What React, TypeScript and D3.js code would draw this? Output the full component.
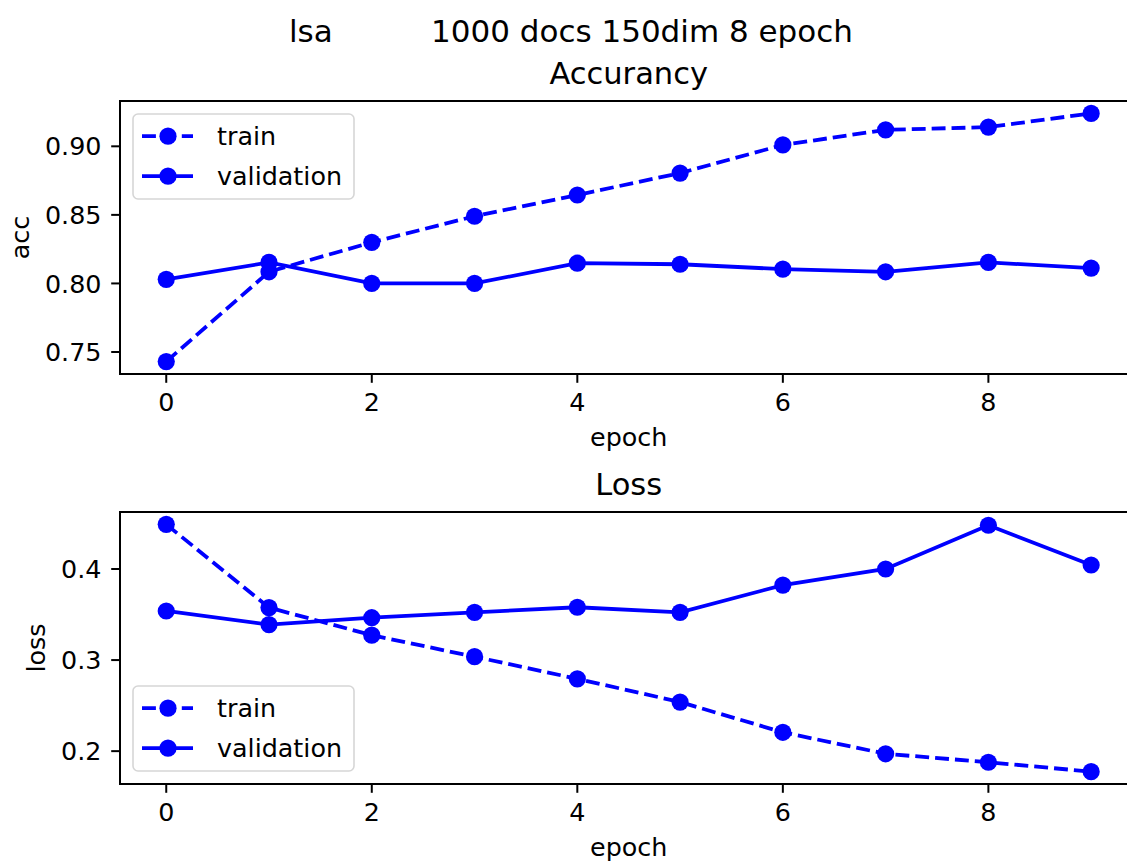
import React, { useEffect, useRef } from "react";
import * as d3 from "d3";

// values
const epochs = [0, 1, 2, 3, 4, 5, 6, 7, 8, 9];
const accTrain = [0.743, 0.8085, 0.830, 0.849, 0.8645, 0.8805, 0.901, 0.912, 0.914, 0.924];
const accVal = [0.803, 0.8153, 0.800, 0.800, 0.8148, 0.814, 0.8104, 0.8085, 0.8153, 0.8112];
const lossTrain = [0.449, 0.3576, 0.3273, 0.3037, 0.2794, 0.2539, 0.2207, 0.1971, 0.1878, 0.1775];
const lossVal = [0.3539, 0.339, 0.3465, 0.3524, 0.358, 0.3524, 0.3823, 0.400, 0.448, 0.4044];
const xTicks = [0, 2, 4, 6, 8];
const accTicks = [0.75, 0.8, 0.85, 0.9];
const lossTicks = [0.2, 0.3, 0.4];
const seriesNames = ["train", "validation"];

const W = 1127;
const H = 861;
const FONT = "DejaVu Sans";
const TICK_FS = 25.4;
const TITLE_FS = 30.5;
const SUP_FS = 31;
const BLUE = "#0000ff";

function withMargin(vals: number[]): [number, number] {
  const lo = d3.min(vals) as number;
  const hi = d3.max(vals) as number;
  const m = (hi - lo) * 0.05;
  return [lo - m, hi + m];
}

export default function App() {
  const ref = useRef<SVGSVGElement>(null);

  useEffect(() => {
    const svg = d3.select(ref.current);
    svg.selectAll("*").remove();

    svg
      .append("text")
      .attr("x", 289)
      .attr("y", 42)
      .style("font-family", FONT)
      .style("font-size", SUP_FS + "px")
      .text("lsa");
    svg
      .append("text")
      .attr("x", 431)
      .attr("y", 42)
      .style("font-family", FONT)
      .style("font-size", SUP_FS + "px")
      .text("1000 docs 150dim 8 epoch");

    const left = 120;
    const right = 1137.4;
    const x = d3.scaleLinear().domain([-0.45, 9.45]).range([left, right]);

    const panels = [
      {
        top: 101,
        bottom: 374,
        title: "Accurancy",
        ylabel: "acc",
        ylabelX: 28.5,
        train: accTrain,
        val: accVal,
        ticks: accTicks,
        fmt: d3.format(".2f"),
        legendAt: "upper",
      },
      {
        top: 512,
        bottom: 784,
        title: "Loss",
        ylabel: "loss",
        ylabelX: 45,
        train: lossTrain,
        val: lossVal,
        ticks: lossTicks,
        fmt: d3.format(".1f"),
        legendAt: "lower",
      },
    ];

    panels.forEach((p) => {
      const y = d3
        .scaleLinear()
        .domain(withMargin(p.train.concat(p.val)))
        .range([p.bottom, p.top]);
      const g = svg.append("g");

      // x ticks
      xTicks.forEach((t) => {
        g.append("line")
          .attr("x1", x(t))
          .attr("x2", x(t))
          .attr("y1", p.bottom)
          .attr("y2", p.bottom + 8.8)
          .attr("stroke", "black")
          .attr("stroke-width", 2);
        g.append("text")
          .attr("x", x(t))
          .attr("y", p.bottom + 37)
          .attr("text-anchor", "middle")
          .style("font-family", FONT)
          .style("font-size", TICK_FS + "px")
          .text(String(t));
      });
      // y ticks
      p.ticks.forEach((t) => {
        g.append("line")
          .attr("x1", left - 8.8)
          .attr("x2", left)
          .attr("y1", y(t))
          .attr("y2", y(t))
          .attr("stroke", "black")
          .attr("stroke-width", 2);
        g.append("text")
          .attr("x", left - 18.5)
          .attr("y", y(t))
          .attr("dy", "0.36em")
          .attr("text-anchor", "end")
          .style("font-family", FONT)
          .style("font-size", TICK_FS + "px")
          .text(p.fmt(t));
      });

      const cx = (left + right) / 2;
      g.append("text")
        .attr("x", cx)
        .attr("y", p.bottom + 72)
        .attr("text-anchor", "middle")
        .style("font-family", FONT)
        .style("font-size", TICK_FS + "px")
        .text("epoch");
      g.append("text")
        .attr("x", cx)
        .attr("y", p.top - 17)
        .attr("text-anchor", "middle")
        .style("font-family", FONT)
        .style("font-size", TITLE_FS + "px")
        .text(p.title);
      g.append("text")
        .attr(
          "transform",
          "translate(" + p.ylabelX + "," + (p.top + p.bottom) / 2 + ") rotate(-90)"
        )
        .attr("text-anchor", "middle")
        .style("font-family", FONT)
        .style("font-size", TICK_FS + "px")
        .text(p.ylabel);

      const line = d3
        .line<number>()
        .x((d, i) => x(epochs[i]))
        .y((d) => y(d));

      [p.train, p.val].forEach((vals, k) => {
        g.append("path")
          .datum(vals)
          .attr("fill", "none")
          .attr("stroke", BLUE)
          .attr("stroke-width", 3.8)
          .attr("stroke-dasharray", k === 0 ? "13.9,6" : null)
          .attr("d", line);
        g.selectAll(null)
          .data(vals)
          .enter()
          .append("circle")
          .attr("cx", (d, i) => x(epochs[i]))
          .attr("cy", (d) => y(d))
          .attr("r", 8.6)
          .attr("fill", BLUE);
      });

      // frame
      g.append("rect")
        .attr("x", left)
        .attr("y", p.top)
        .attr("width", right - left)
        .attr("height", p.bottom - p.top)
        .attr("fill", "none")
        .attr("stroke", "black")
        .attr("stroke-width", 2);

      // legend
      const lw = 221;
      const lh = 85;
      const lx = left + 13;
      const ly = p.legendAt === "upper" ? p.top + 13 : p.bottom - 13 - lh;
      const lg = g.append("g").attr("transform", "translate(" + lx + "," + ly + ")");
      lg.append("rect")
        .attr("width", lw)
        .attr("height", lh)
        .attr("rx", 5)
        .attr("fill", "white")
        .attr("fill-opacity", 0.8)
        .attr("stroke", "#d6d6d6")
        .attr("stroke-width", 1.6);
      seriesNames.forEach((name, k) => {
        const ry = 22.2 + k * 40;
        lg.append("line")
          .attr("x1", 9)
          .attr("x2", 60)
          .attr("y1", ry)
          .attr("y2", ry)
          .attr("stroke", BLUE)
          .attr("stroke-width", 3.8)
          .attr("stroke-dasharray", k === 0 ? "13.9,6" : null);
        lg.append("circle").attr("cx", 35).attr("cy", ry).attr("r", 8.6).attr("fill", BLUE);
        lg.append("text")
          .attr("x", 84)
          .attr("y", ry)
          .attr("dy", "0.33em")
          .style("font-family", FONT)
          .style("font-size", TICK_FS + "px")
          .text(name);
      });
    });
  }, []);

  return (
    <svg
      ref={ref}
      width={W}
      height={H}
      style={{ position: "absolute", left: 0, top: 0, background: "white", overflow: "hidden" }}
    />
  );
}
